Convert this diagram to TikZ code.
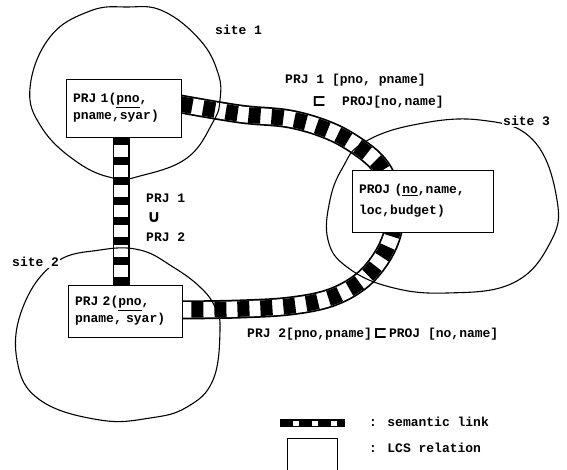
\documentclass[tikz,border=0pt]{standalone}
\usepackage{fontspec}
\setmainfont{Liberation Mono}
\newfontfamily\symf{DejaVu Sans}
\usetikzlibrary{calc}

\tikzset{
  x=1pt, y=-1pt,
  txt/.style={font=\bfseries\fontsize{13}{17}\selectfont, inner sep=1pt},
  sym/.style={font=\symf\bfseries\fontsize{17}{17}\selectfont, inner sep=0pt},
  site/.style={draw=black, line width=1.1pt},
  lcs/.style={draw=black, fill=white, line width=0.9pt, rectangle, align=left,
              font=\bfseries\fontsize{13}{17}\selectfont, inner xsep=7pt, inner ysep=0pt},
  slink/.style={draw=black, line width=19pt,
                postaction={draw=white, line width=15.5pt},
                postaction={draw=black, line width=15.5pt, dash pattern=on 12pt off 11pt}},
  vlink/.style={draw=black, line width=17pt,
                postaction={draw=white, line width=14pt},
                postaction={draw=black, line width=14pt, dash pattern=on 8pt off 12pt}},
  leglink/.style={draw=black, line width=8pt,
                postaction={draw=white, line width=5pt},
                postaction={draw=black, line width=5pt, dash pattern=on 13pt off 6pt}},
}

\begin{document}
\begin{tikzpicture}
\useasboundingbox (0,0) rectangle (567,469);

% LCS relations
\node[lcs, text width=101pt, minimum height=58pt] (prj1) at (123.5,108)
  {PRJ 1(\underline{pno},\\pname,syar)};
\node[lcs, text width=100pt, minimum height=52pt] (prj2) at (125,311)
  {PRJ 2(\underline{pno},\\pname, syar)};
\node[lcs, text width=127pt, minimum height=62pt, font=\bfseries\fontsize{13}{21}\selectfont] (proj) at (422.5,201)
  {PROJ (\underline{no},name,\\ loc,budget)};

% semantic links
\coordinate (v1) at ($(prj1.south)+(-2.5,0)$);
\coordinate (v2) at ($(prj2.north)+(-4,0)$);
\draw[vlink] (v1) -- (v2);

\coordinate (c1) at ($(prj1.east)+(-1,-4)$);
\coordinate (c2) at ($(prj2.east)+(-1,-1)$);
\draw[slink] plot[smooth, tension=0.6] coordinates {(c1) (240,114) (290,119) (330,131)
  (360,148) (380,166) (392,190) (395,210) (392,235) (380,260) (360,282) (330,298)
  (290,306) (240,309) (c2)};

% sites
\draw[site] plot[smooth cycle, tension=0.7] coordinates {(30,88) (50,37) (90,11) (127,7)
  (163,11) (200,40) (218,73) (220,100) (213,122) (187,158) (140,176) (113,178)
  (77,162) (42,128)};
\draw[site] plot[smooth cycle, tension=0.7] coordinates {(23,307) (55,263) (100,250)
  (140,250) (173,267) (200,287) (215,307) (220,330) (213,380) (187,407) (150,418)
  (100,420) (40,400) (17,360)};
\draw[site] plot[smooth cycle, tension=0.7] coordinates {(328,240) (330,200) (343,167)
  (363,143) (413,125) (480,120) (533,140) (557,200) (550,243) (513,283) (447,293)
  (390,287) (347,267)};

% redraw boxes above the outlines and links
\node[lcs, text width=101pt, minimum height=58pt] at (prj1) {PRJ 1(\underline{pno},\\pname,syar)};
\node[lcs, text width=100pt, minimum height=52pt] at (prj2) {PRJ 2(\underline{pno},\\pname, syar)};
\node[lcs, text width=127pt, minimum height=62pt, font=\bfseries\fontsize{13}{21}\selectfont] at (proj)
  {PROJ (\underline{no},name,\\ loc,budget)};

% site names
\node[txt, anchor=west] (s1) at (214,30) {site 1};
\node[txt, anchor=west, fill=white] (s2) at (11,262) {site 2};
\node[txt, anchor=west, fill=white] (s3) at (502,121) {site 3};

% link labels
\node[txt, anchor=west] (l1a) at (284,80) {PRJ 1 [pno, pname]};
\node[sym, anchor=west] (l1s) at (312,102) {⊏};
\node[txt, anchor=west] (l1b) at (341,102) {PROJ[no,name]};
\node[txt, anchor=west] (l2a) at (145,198) {PRJ 1};
\node[sym] (l2b) at (154,218) {∪};
\node[txt, anchor=west] (l2c) at (145,237) {PRJ 2};
\node[txt, anchor=west] (l3a) at (246,334) {PRJ 2[pno,pname]};
\node[sym, anchor=west] (l3s) at (l3a.east) {⊏};
\node[txt, anchor=west] (l3b) at (l3s.east) {PROJ [no,name]};

% legend
\coordinate (g1) at (280,423);
\coordinate (g2) at (345,423);
\draw[leglink] (g1) -- (g2);
\node[txt, anchor=west] (lg1) at (368,422) {: semantic link};
\draw[line width=0.9pt] (287,470) -- (287,438) -- (337,438) -- (337,470);
\node[txt, anchor=west] (lg2) at (368,448) {: LCS relation};
\end{tikzpicture}
\end{document}
